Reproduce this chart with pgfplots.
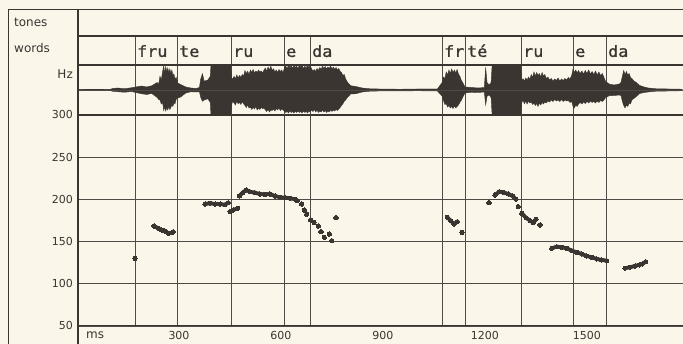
\documentclass[border=0pt]{standalone}
\usepackage{pgfplots}
\pgfplotsset{compat=1.18}
\usepackage{pgfplotstable}
\usepackage{fontspec}
\setmainfont{DejaVu Sans}
\newfontfamily\wordfont[FakeStretch=1.08, FakeBold=1.2]{DejaVu Sans Mono}
\definecolor{bg}{RGB}{250,246,234}
\definecolor{ink}{RGB}{58,53,48}
\definecolor{gridc}{RGB}{80,75,70}

% waveform envelope (ms, upper, lower), amplitude relative to tier half-height
\pgfplotstableread{
ms up lo
6 0.02 -0.02
100 0.03 -0.03
104 0.06 -0.05
120 0.08 -0.07
140 0.05 -0.09
160 0.09 -0.06
173 0.12 -0.10
190 0.16 -0.15
205 0.12 -0.18
220 0.17 -0.14
236 0.30 -0.30
240 0.22 -0.38
244 0.55 -0.40
248 0.40 -0.56
252 0.75 -0.50
255 0.97 -0.82
258 0.66 -0.68
261 0.94 -0.84
264 0.72 -0.70
267 0.88 -0.80
270 0.70 -0.66
273 0.84 -0.78
276 0.66 -0.70
279 0.80 -0.60
282 0.58 -0.66
285 0.64 -0.50
288 0.45 -0.56
292 0.50 -0.36
296 0.28 -0.32
305 0.22 -0.28
320 0.12 -0.12
335 0.08 -0.07
350 0.06 -0.08
360 0.10 -0.07
364 0.45 -0.30
369 0.65 -0.45
374 0.35 -0.40
385 0.40 -0.35
392 0.55 -0.50
394 1.0 -1.0
452 1.0 -1.0
455 0.50 -0.58
458 0.42 -0.45
462 0.55 -0.52
466 0.45 -0.60
470 0.60 -0.45
474 0.48 -0.55
478 0.58 -0.50
482 0.50 -0.58
486 0.62 -0.47
490 0.55 -0.55
494 0.78 -0.62
498 0.65 -0.70
502 0.75 -0.60
506 0.62 -0.72
510 0.80 -0.68
514 0.70 -0.78
518 0.82 -0.70
522 0.68 -0.76
526 0.76 -0.66
530 0.70 -0.80
534 0.80 -0.72
538 0.72 -0.78
542 0.76 -0.70
546 0.68 -0.75
550 0.80 -0.72
554 0.88 -0.80
558 0.75 -0.86
562 0.92 -0.78
566 0.80 -0.88
570 0.95 -0.80
574 0.78 -0.82
578 0.85 -0.76
582 0.72 -0.84
586 0.80 -0.74
590 0.70 -0.80
594 0.82 -0.72
598 0.74 -0.82
602 0.80 -0.76
606 0.70 -0.80
610 0.88 -0.84
614 0.96 -0.90
618 0.85 -0.86
622 1.0 -0.92
626 0.90 -0.84
630 0.98 -0.90
634 0.86 -0.86
638 1.0 -0.92
642 0.90 -0.85
646 0.96 -0.90
650 0.85 -0.84
654 1.0 -0.90
658 0.92 -0.86
662 0.98 -0.92
666 0.86 -0.84
670 0.95 -0.90
674 0.88 -0.86
678 1.0 -0.92
682 0.90 -0.85
686 0.98 -0.88
690 0.84 -0.80
694 0.76 -0.86
698 0.82 -0.78
702 0.74 -0.88
706 0.86 -0.80
710 0.78 -0.90
714 0.90 -0.84
718 0.82 -0.88
722 0.95 -0.80
726 0.86 -0.88
730 0.94 -0.82
734 0.84 -0.90
738 0.92 -0.84
742 0.86 -0.88
746 0.96 -0.80
750 0.84 -0.86
754 0.92 -0.80
758 0.82 -0.84
762 0.90 -0.78
766 0.80 -0.82
770 0.86 -0.76
774 0.74 -0.70
778 0.70 -0.62
782 0.58 -0.55
786 0.62 -0.45
790 0.45 -0.40
795 0.32 -0.30
805 0.17 -0.16
820 0.14 -0.15
839 0.08 -0.08
860 0.05 -0.05
888 0.04 -0.04
950 0.03 -0.04
1000 0.04 -0.03
1060 0.04 -0.04
1074 0.30 -0.25
1078 0.52 -0.43
1082 0.45 -0.58
1086 0.72 -0.55
1090 0.60 -0.68
1094 0.80 -0.62
1098 0.66 -0.72
1102 0.84 -0.66
1106 0.70 -0.74
1110 0.80 -0.64
1114 0.68 -0.72
1118 0.82 -0.66
1122 0.64 -0.60
1126 0.55 -0.50
1130 0.40 -0.42
1135 0.28 -0.28
1141 0.12 -0.12
1160 0.10 -0.09
1180 0.08 -0.10
1198 0.10 -0.08
1202 0.90 -0.60
1206 0.30 -0.25
1212 0.20 -0.20
1218 0.30 -0.30
1221 1.0 -1.0
1305 1.0 -1.0
1308 0.40 -0.50
1312 0.45 -0.42
1316 0.36 -0.55
1320 0.48 -0.45
1324 0.40 -0.56
1328 0.52 -0.44
1332 0.42 -0.52
1336 0.62 -0.48
1340 0.50 -0.58
1344 0.72 -0.52
1348 0.56 -0.62
1352 0.70 -0.54
1356 0.58 -0.66
1360 0.66 -0.52
1364 0.52 -0.60
1368 0.70 -0.50
1372 0.55 -0.56
1376 0.62 -0.48
1380 0.46 -0.52
1385 0.52 -0.44
1390 0.40 -0.48
1395 0.46 -0.40
1400 0.36 -0.46
1405 0.44 -0.38
1410 0.38 -0.44
1415 0.48 -0.40
1420 0.36 -0.46
1425 0.44 -0.38
1430 0.38 -0.46
1435 0.46 -0.40
1440 0.40 -0.44
1445 0.50 -0.42
1450 0.44 -0.50
1455 0.58 -0.46
1459 0.84 -0.66
1463 0.70 -0.72
1467 0.80 -0.60
1471 0.68 -0.66
1475 0.78 -0.56
1480 0.66 -0.50
1485 0.76 -0.56
1490 0.64 -0.48
1495 0.78 -0.54
1500 0.66 -0.46
1505 0.80 -0.52
1510 0.64 -0.44
1515 0.74 -0.50
1520 0.62 -0.46
1525 0.76 -0.52
1530 0.60 -0.44
1535 0.72 -0.50
1540 0.58 -0.42
1545 0.66 -0.46
1550 0.50 -0.40
1555 0.34 -0.30
1565 0.24 -0.23
1580 0.20 -0.22
1595 0.24 -0.20
1600 0.30 -0.22
1604 0.55 -0.45
1608 0.78 -0.62
1612 0.62 -0.72
1616 0.74 -0.60
1620 0.60 -0.66
1624 0.66 -0.52
1628 0.50 -0.56
1632 0.46 -0.40
1638 0.36 -0.34
1645 0.30 -0.26
1655 0.18 -0.14
1668 0.12 -0.10
1680 0.08 -0.08
1702 0.05 -0.05
1780 0.03 -0.03
}\wave

\pgfplotsset{
  seg/.style={ink, line width=3.8pt, line cap=round, line join=round,
    mark=*, mark size=2.1pt, mark options={solid, line width=0pt, fill=ink}},
  dots/.style={ink, only marks, mark=*, mark size=2.2pt,
    mark options={line width=0pt, fill=ink}},
  tier/.style={scale only axis, width=606pt, xmin=0, xmax=1782.4,
    axis line style={draw=none}, clip=true,
    xtick={170.6,294.1,452.9,608.8,685.3,1073.5,1141.2,1305.9,1458.8,1555.9},
    xticklabels={,,,,,,,,,}, xmajorgrids, major tick length=0pt,
    grid style={gridc, line width=0.9pt}},
}

\begin{document}
\begin{tikzpicture}[x=1pt,y=1pt]
\fill[bg] (0,0) rectangle (683,344);

% pitch panel
\begin{axis}[tier, at={(77pt,18pt)}, anchor=south west, height=211pt,
  ymin=50, ymax=300, ytick={50,100,...,300}, ymajorgrids,
  /pgf/number format/assume math mode=true,
  tick label style={font=\fontsize{11}{12}\selectfont, text=ink},
  yticklabel style={anchor=east, inner sep=0pt, xshift=-4pt},
  tick align=inside,
  extra x ticks={300,600,900,1200,1500},
  extra x tick labels={300,600,900,1200,1500},
  extra x tick style={grid=none, xticklabel style={anchor=north, inner sep=0pt, yshift=-5pt}},
]
\addplot[seg] coordinates {(226.5,168.5) (239.1,165.8) (249.1,163.7) (258.8,162.6) (268.5,159.8) (278.5,160.5) (283.2,161.7)};
\addplot[seg] coordinates {(376.5,194.5) (391.2,195.4) (405.9,194.5) (420.6,194.5) (435.3,193.7) (445,196.1)};
\addplot[seg] coordinates {(450,185.4) (459.7,187.4) (472.6,189.5)};
\addplot[seg] coordinates {(477.4,204.0) (487.4,207.9) (497.1,211.1) (508.8,209.1) (523.5,207.9) (538.2,206.4) (552.9,206.0) (567.6,206.4) (582.4,204.0) (597.1,202.5) (611.8,202.0) (626.5,201.3) (641.2,200.1) (647.9,198.5)};
\addplot[dots] coordinates {(170.6,130.2) (660.9,194.5) (668.5,187.4) (675.6,182.3) (687.4,175.6) (697.1,172.9) (709.7,168.5) (717.6,161.7) (727.4,155.1) (742.1,159.0) (749.1,151.1) (761.8,178.3)};
\addplot[seg] coordinates {(1089.1,178.8) (1099.1,174.8) (1108.8,170.9) (1118.5,173.6)};
\addplot[seg] coordinates {(1229.4,205.2) (1242.1,209.1) (1253.8,208.4) (1268.5,206.4) (1281.5,204.0) (1291.2,200.1)};
\addplot[seg] coordinates {(1307.9,183.5) (1320.6,178.3) (1332.4,174.8) (1342.1,172.5) (1350,176.4)};
\addplot[dots] coordinates {(1132.4,161.0) (1211.8,196.1) (1297.9,191.4) (1361.8,169.7)};
\addplot[seg] coordinates {(1396.2,142.1) (1410.9,144.0) (1425.6,143.3) (1440.3,142.1) (1455,139.3) (1469.7,137.4) (1484.4,135.3) (1499.1,132.9) (1513.8,131.4) (1528.5,129.4) (1543.2,128.2) (1557.9,127.4)};
\addplot[seg] coordinates {(1611.8,118.4) (1626.5,119.6) (1641.2,121.1) (1653.8,122.3) (1662.6,123.5) (1672.6,126.2)};
\draw[ink, line width=2pt] (rel axis cs:0,0) -- (rel axis cs:1,0);
\draw[ink, line width=2pt] (rel axis cs:0,1) -- (rel axis cs:1,1);
\end{axis}

% waveform panel
\begin{axis}[tier, at={(77pt,229pt)}, anchor=south west, height=50pt,
  ymin=-1, ymax=1, ytick=\empty]
\addplot[fill=ink, draw=ink, line width=0.4pt] table[x=ms, y=up] {\wave} \closedcycle;
\addplot[fill=ink, draw=ink, line width=0.4pt] table[x=ms, y=lo] {\wave} \closedcycle;
\addplot[gridc, line width=0.9pt] coordinates {(0,0) (1782.4,0)};
\end{axis}

% words tier
\begin{axis}[tier, at={(77pt,279pt)}, anchor=south west, height=29pt,
  ymin=0, ymax=1, ytick=\empty]
\addplot[draw=none] coordinates {(0,0)};
\foreach \p/\w in {170.6/fru, 294.1/te, 452.9/ru, 608.8/e, 685.3/da, 1073.5/fr, 1141.2/té, 1305.9/ru, 1458.8/e, 1555.9/da} {
  \edef\tmp{\noexpand\node[anchor=base west, inner sep=0pt, xshift=2pt, text=ink, font=\noexpand\wordfont\noexpand\fontsize{15.5}{16}\noexpand\selectfont] at (axis cs:\p,0.28) {\w};}
  \tmp
}
\end{axis}

% frame lines
\draw[ink, line width=1pt] (8,0) -- (8,334) -- (683,334);
\draw[ink, line width=2pt] (78,0) -- (78,334);
\draw[ink, line width=1.4pt] (78,308) -- (683,308);
\draw[ink, line width=2pt] (78,279) -- (683,279);

% labels
\node[anchor=base west, inner sep=0pt, text=ink, font=\fontsize{12}{13}\selectfont] at (14,317) {tones};
\node[anchor=base west, inner sep=0pt, text=ink, font=\fontsize{12}{13}\selectfont] at (14,291) {words};
\node[anchor=base east, inner sep=0pt, text=ink, font=\fontsize{12}{13}\selectfont] at (73,265) {Hz};
\node[anchor=base west, inner sep=0pt, text=ink, font=\fontsize{12}{13}\selectfont] at (86,5) {ms};

\pgfresetboundingbox
\useasboundingbox (0,0) rectangle (683,344);
\end{tikzpicture}
\end{document}
